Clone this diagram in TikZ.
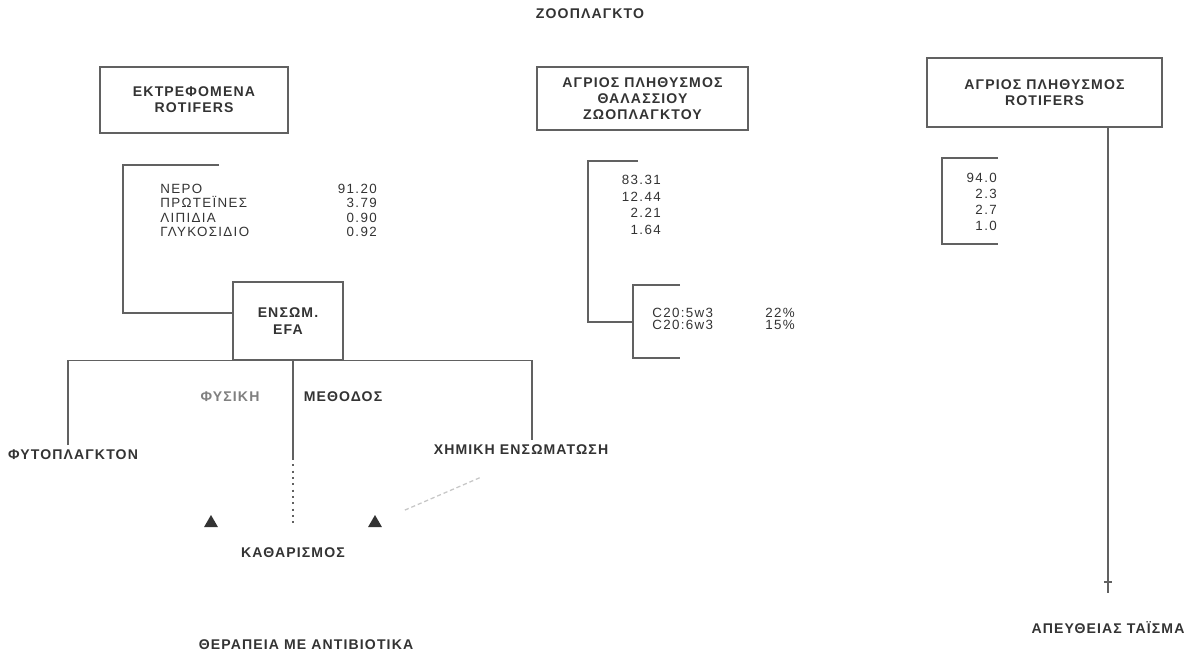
\documentclass[tikz,border=0pt]{standalone}
\usepackage{fontspec}
\setmainfont{Liberation Sans}
\newfontfamily\lblfont[LetterSpace=8]{Liberation Sans}
\newfontfamily\numfont[LetterSpace=10]{Liberation Sans}
\usetikzlibrary{shapes.geometric}
\definecolor{ink}{gray}{0.2}
\definecolor{rule}{gray}{0.38}
\definecolor{pale}{gray}{0.5}
\definecolor{ghost}{gray}{0.78}

\tikzset{
  lbl/.style={text=ink,font=\lblfont\bfseries\fontsize{10}{11.5}\selectfont,align=center},
  card/.style={draw=rule,line width=0.8pt,rectangle,lbl},
  data/.style={text=ink,font=\numfont\fontsize{9.5}{#1}\selectfont,inner sep=0pt},
  data/.default=10.2,
  line/.style={draw=rule,line width=0.8pt},
  tip/.style={regular polygon,regular polygon sides=3,fill=ink,inner sep=0pt,minimum size=0.4cm},
  faint/.style={draw=ghost,line width=0.9pt,densely dashed}
}

\begin{document}
\begin{tikzpicture}[x=0.025cm,y=-0.025cm]
\useasboundingbox (0,0) rectangle (1196,666);
\node[lbl] (head) at (590,14) {ΖΟΟΠΛΑΓΚΤΟ};

\node[card,minimum width=4.7cm,minimum height=1.65cm] (farmed) at (194,100) {ΕΚΤΡΕΦΟΜΕΝΑ\\ROTIFERS};
\node[card,minimum width=5.275cm,minimum height=1.575cm] (marine) at (642.5,98.5) {ΑΓΡΙΟΣ ΠΛΗΘΥΣΜΟΣ\\ΘΑΛΑΣΣΙΟΥ\\ΖΩΟΠΛΑΓΚΤΟΥ};
\node[card,minimum width=5.875cm,minimum height=1.725cm] (wild) at (1044.5,92.5) {ΑΓΡΙΟΣ ΠΛΗΘΥΣΜΟΣ\\ROTIFERS};

\node[data,anchor=north west,align=left] (parts) at (160,184) {ΝΕΡΟ\\ΠΡΩΤΕΪΝΕΣ\\ΛΙΠΙΔΙΑ\\ΓΛΥΚΟΣΙΔΙΟ};
\node[data,anchor=north east,align=right] (farmedval) at (377,184) {91.20\\3.79\\0.90\\0.92};
\node[data=11.8,anchor=north east,align=right] (marineval) at (661,175) {83.31\\12.44\\2.21\\1.64};
\node[data=8.5,anchor=north west,align=left] (acids) at (652,308) {C20:5w3\\C20:6w3};
\node[data=8.5,anchor=north west,align=left] (share) at (765,308) {22\%\\15\%};
\node[data=11.3,anchor=north east,align=right] (wildval) at (997,173) {94.0\\2.3\\2.7\\1.0};

\node[card,minimum width=2.75cm,minimum height=1.95cm] (efa) at (288,321) {ΕΝΣΩΜ.\\EFA};

\node[lbl,text=pale] (natural) at (230,397) {ΦΥΣΙΚΗ};
\node[lbl] (method) at (343,397) {ΜΕΘΟΔΟΣ};
\node[lbl] (phyto) at (73,455) {ΦΥΤΟΠΛΑΓΚΤΟΝ};
\node[lbl] (chem) at (521,450) {ΧΗΜΙΚΗ ΕΝΣΩΜΑΤΩΣΗ};
\node[tip] (tipA) at (211,523) {};
\node[tip] (tipB) at (375,523) {};
\node[lbl] (clean) at (293,553) {ΚΑΘΑΡΙΣΜΟΣ};
\node[lbl] (drug) at (306,645) {ΘΕΡΑΠΕΙΑ ΜΕ ΑΝΤΙΒΙΟΤΙΚΑ};
\node[lbl] (direct) at (1108,628) {ΑΠΕΥΘΕΙΑΣ ΤΑΪΣΜΑ};

\draw[line] (219,165) -- (123,165) |- (efa.west |- 0,313);
\draw[line] (phyto.north -| 68,0) |- (efa.south) -| (chem.north -| 532,0);
\draw[line] (efa.south -| 293,0) -- (293,458);
\draw[line,dash pattern=on 1.5pt off 3pt] (293,458) -- (293,523);
\draw[faint,shorten <=32pt,shorten >=20pt] (chem.south) -- (tipB);

\draw[line] (638,161) -- (588,161) |- (633,322);
\draw[line] (680,285) -- (633,285) -- (633,358) -- (680,358);
\draw[line] (998,158) -- (942,158) -- (942,244) -- (998,244);

\coordinate (feed) at (1108,593);
\coordinate (feedtick) at (1108,582);
\draw[line] (wild.south -| feed) -- (feed);
\draw[line] ([xshift=-3pt]feedtick) -- ([xshift=3pt]feedtick);
\end{tikzpicture}
\end{document}
